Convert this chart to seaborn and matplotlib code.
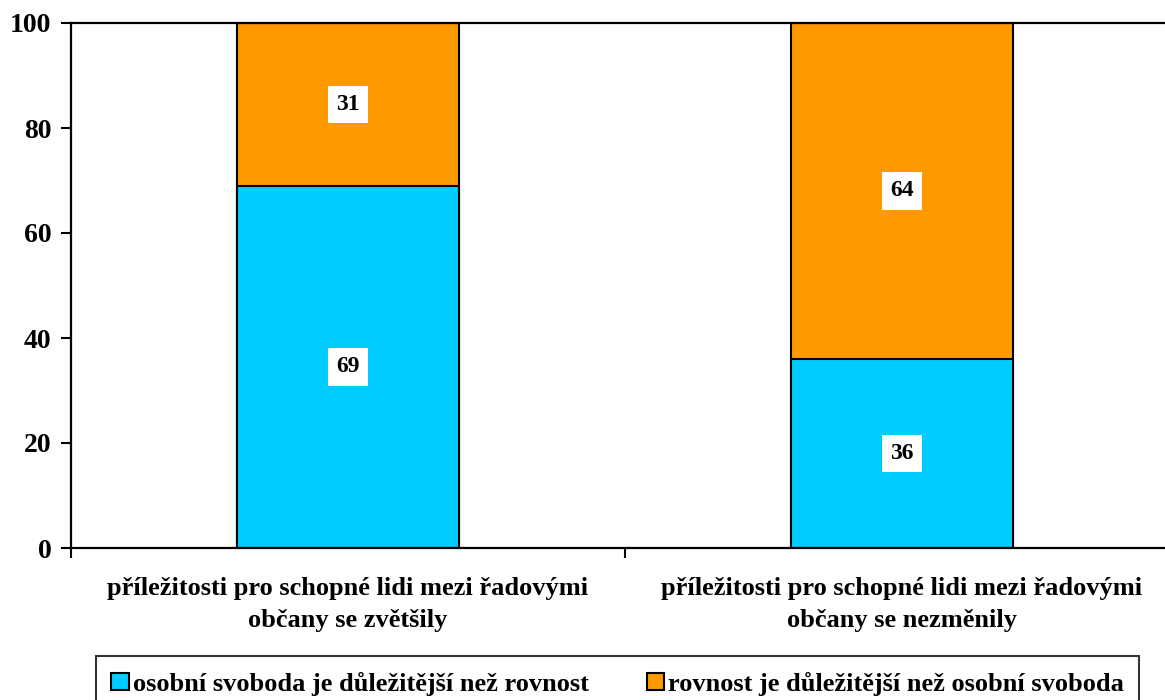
import numpy as np
import pandas as pd
import matplotlib.pyplot as plt
import seaborn as sns
from matplotlib.patches import Patch

# data
categories = ["příležitosti pro schopné lidi mezi řadovými\nobčany se zvětšily",
              "příležitosti pro schopné lidi mezi řadovými\nobčany se nezměnily"]
svoboda = [69, 36]
rovnost = [31, 64]
series_names = ["osobní svoboda je důležitější než rovnost",
                "rovnost je důležitější než osobní svoboda"]
y_ticks = [0, 20, 40, 60, 80, 100]

blue = "#00CCFF"
orange = "#FF9900"

sns.set_style("white")
plt.rcParams['font.family'] = ['Liberation Serif', 'DejaVu Serif']
plt.rcParams['font.weight'] = 'bold'
plt.rcParams['text.color'] = 'black'
plt.rcParams['xtick.color'] = 'black'
plt.rcParams['ytick.color'] = 'black'

df = pd.DataFrame({"cat": categories, "svoboda": svoboda, "rovnost": rovnost})
df["total"] = df["svoboda"] + df["rovnost"]

fig = plt.figure(figsize=(11.65, 7), dpi=100)
ax = fig.add_axes([71 / 1165, 1 - 548 / 700, 1108 / 1165, 525 / 700])

# stacked: full bar in orange, blue part drawn on top
sns.barplot(data=df, x="cat", y="total", color=orange, width=0.4,
            edgecolor="black", linewidth=1.5, saturation=1, ax=ax)
sns.barplot(data=df, x="cat", y="svoboda", color=blue, width=0.4,
            edgecolor="black", linewidth=1.5, saturation=1, ax=ax)

# segment labels
box = dict(facecolor="white", edgecolor="none", pad=6)
for i, row in df.iterrows():
    ax.text(i, row["svoboda"] / 2, str(row["svoboda"]), ha="center", va="center",
            fontsize=17, fontweight="bold", bbox=box)
    ax.text(i, row["svoboda"] + row["rovnost"] / 2, str(row["rovnost"]),
            ha="center", va="center", fontsize=17, fontweight="bold", bbox=box)

ax.set_xlim(-0.5, 1.5)
ax.set_ylim(0, 100)
ax.set_yticks(y_ticks)
ax.set_xlabel("")
ax.set_ylabel("")

for s in ax.spines.values():
    s.set_linewidth(1.6)
    s.set_color("black")

ax.tick_params(axis="y", which="major", direction="out", length=7, width=1.5,
               pad=7, labelsize=20, left=True)
ax.tick_params(axis="x", which="major", length=0, pad=21, labelsize=19)
ax.set_xticks([-0.5, 0.5, 1.5], minor=True)
ax.tick_params(axis="x", which="minor", direction="out", length=7, width=1.5,
               bottom=True)
for lbl in ax.get_xticklabels():
    lbl.set_linespacing(1.5)
    lbl.set_fontweight("bold")
for lbl in ax.get_yticklabels():
    lbl.set_fontweight("bold")

handles = [Patch(facecolor=blue, edgecolor="black", linewidth=1.5),
           Patch(facecolor=orange, edgecolor="black", linewidth=1.5)]
leg = fig.legend(handles, series_names, loc="upper center", ncol=2,
                 bbox_to_anchor=(617.5 / 1165, 1 - 656 / 700),
                 frameon=True, fancybox=False, shadow=False, borderaxespad=0,
                 borderpad=0.6, handlelength=0.65, handleheight=0.65,
                 handletextpad=0.15, columnspacing=2.2,
                 prop={"size": 19, "weight": "bold"})
leg.get_frame().set_edgecolor("black")
leg.get_frame().set_linewidth(1.5)

fig.savefig("out.png", dpi=100)
